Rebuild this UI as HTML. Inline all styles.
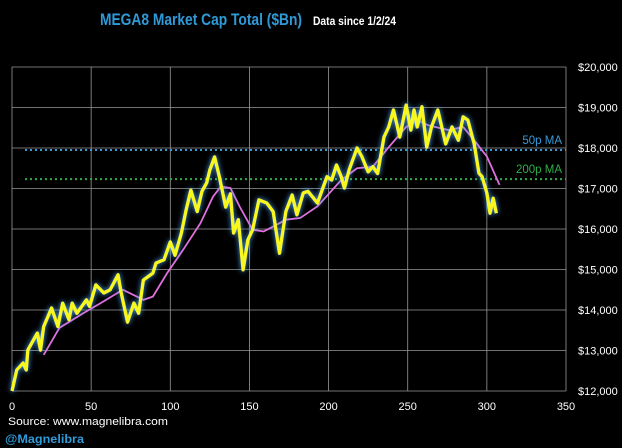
<!DOCTYPE html>
<html><head><meta charset="utf-8"><style>
html,body{margin:0;padding:0;background:#000;}
svg{display:block;font-family:"Liberation Sans",sans-serif;}
</style></head><body>
<svg id="chart" width="622" height="448" viewBox="0 0 622 448">
<defs>
<filter id="glow" x="-10%" y="-10%" width="120%" height="120%">
<feGaussianBlur in="SourceAlpha" stdDeviation="2.6" result="b"/>
<feFlood flood-color="#4aa8ff" flood-opacity="1"/>
<feComposite in2="b" operator="in" result="g"/>
<feMerge><feMergeNode in="g"/><feMergeNode in="SourceGraphic"/></feMerge>
</filter>
</defs>
<rect width="622" height="448" fill="#000"/>
<text x="100" y="25" font-size="17" font-weight="bold" fill="#2f9ad8" textLength="202" lengthAdjust="spacingAndGlyphs">MEGA8 Market Cap Total ($Bn)</text>
<text x="313" y="25" font-size="11.5" font-weight="bold" fill="#fff" textLength="83" lengthAdjust="spacingAndGlyphs">Data since 1/2/24</text>
<g id="grid"></g>
<g id="axes"></g>
<g id="series"></g>
<text x="8" y="425" font-size="11" fill="#fff" textLength="160" lengthAdjust="spacingAndGlyphs">Source: www.magnelibra.com</text>
<text x="5" y="443" font-size="12" font-weight="bold" fill="#2f9ad8" textLength="79" lengthAdjust="spacingAndGlyphs">@Magnelibra</text>
</svg>
<script>
const xTicks=[0,50,100,150,200,250,300,350];
const yTicks=[12000,13000,14000,15000,16000,17000,18000,19000,20000];
const capX=[0,3,7,9,10,16,18,20,25,29,32,36,38,41,47,49,53,58,62,67,69,73,77,80,83,89,91,96,100,103,107,110,113,117,120,123,125,128,131,135,138,140,143,146,149,152,156,161,165,169,173,177,180,184,187,193,196,199,202,205,208,210,213,218,221,225,228,231,235,238,241,245,249,252,254,256,259,262,265,269,274,278,282,285,288,292,295,297,300,302,304,306];
const capV=[12000,12520,12690,12520,13010,13430,13010,13590,14050,13590,14170,13760,14170,13920,14250,14090,14620,14420,14500,14870,14420,13700,14170,13920,14740,14910,15160,15240,15680,15350,15900,16470,16960,16430,16930,17140,17460,17780,17290,16540,16870,15900,16230,14990,15730,15980,16720,16640,16430,15400,16430,16840,16350,16890,16930,16640,16970,17290,17210,17580,17290,17010,17460,18000,17790,17410,17540,17370,18270,18520,18940,18270,19060,18440,18940,18520,19020,18020,18520,18940,18100,18520,18190,18770,18690,18100,17380,17290,16890,16390,16760,16390,16640];
const maX=[20,30,45,56,70,79,83,89,98,108,119,127,132,138,144,152,159,167,173,182,193,208,218,228,238,249,256,263,276,285,292,300,308];
const maV=[12890,13560,13920,14170,14500,14330,14250,14330,14910,15480,16140,16800,17050,17010,16540,15980,15940,16100,16230,16270,16560,17210,17500,17540,18020,18520,18690,18560,18440,18520,18190,17790,17090];
const refLabels=["50p MA","200p MA"];
const refValues=[17950,17230];

const NS="http://www.w3.org/2000/svg";
const X0=12,X1=566,Y0=391,Y1=67;
const sx=v=>X0+(v-0)/(350-0)*(X1-X0);
const sy=v=>Y0-(v-12000)/(20000-12000)*(Y0-Y1);
function mk(tag,attrs,parent){const e=document.createElementNS(NS,tag);for(const k in attrs)e.setAttribute(k,attrs[k]);parent.appendChild(e);return e;}
const grid=document.getElementById('grid'),axes=document.getElementById('axes'),series=document.getElementById('series');
xTicks.forEach(t=>{
  const l=mk('line',{x1:sx(t),x2:sx(t),y1:Y1,y2:Y0,stroke:'#999','stroke-width':0.8},grid);
  
  
  const tx=mk('text',{x:sx(t),y:410,'font-size':11,fill:'#fff','text-anchor':'middle'},axes);
  tx.textContent=t;
  
  
});
yTicks.forEach(t=>{
  const l=mk('line',{x1:X0,x2:X1,y1:sy(t),y2:sy(t),stroke:'#999','stroke-width':0.8},grid);
  
  
  const tx=mk('text',{x:578,y:sy(t)+4,'font-size':11,fill:'#fff'},axes);
  tx.textContent='$'+t.toLocaleString('en-US');
  
  
});
const refColors=['#3a9ad8','#2fae48'];
refValues.forEach((v,i)=>{
  const l=mk('line',{x1:25,x2:X1,y1:sy(v),y2:sy(v),stroke:refColors[i],'stroke-width':2,'stroke-dasharray':'2,3'},series);
  
  
  const tx=mk('text',{x:562,y:sy(v)-6,'font-size':11.5,fill:refColors[i],'text-anchor':'end'},series);
  tx.textContent=refLabels[i];
  
  
});
const maPath=mk('polyline',{points:maX.map((x,i)=>sx(x)+','+sy(maV[i])).join(' '),fill:'none',stroke:'#e070e0','stroke-width':1.8},series);


const capPath=mk('polyline',{points:capX.map((x,i)=>sx(x)+','+sy(capV[i])).join(' '),fill:'none',stroke:'#f8f81a','stroke-width':3.3,'stroke-linejoin':'round',filter:'url(#glow)'},series);


</script>
</body></html>
